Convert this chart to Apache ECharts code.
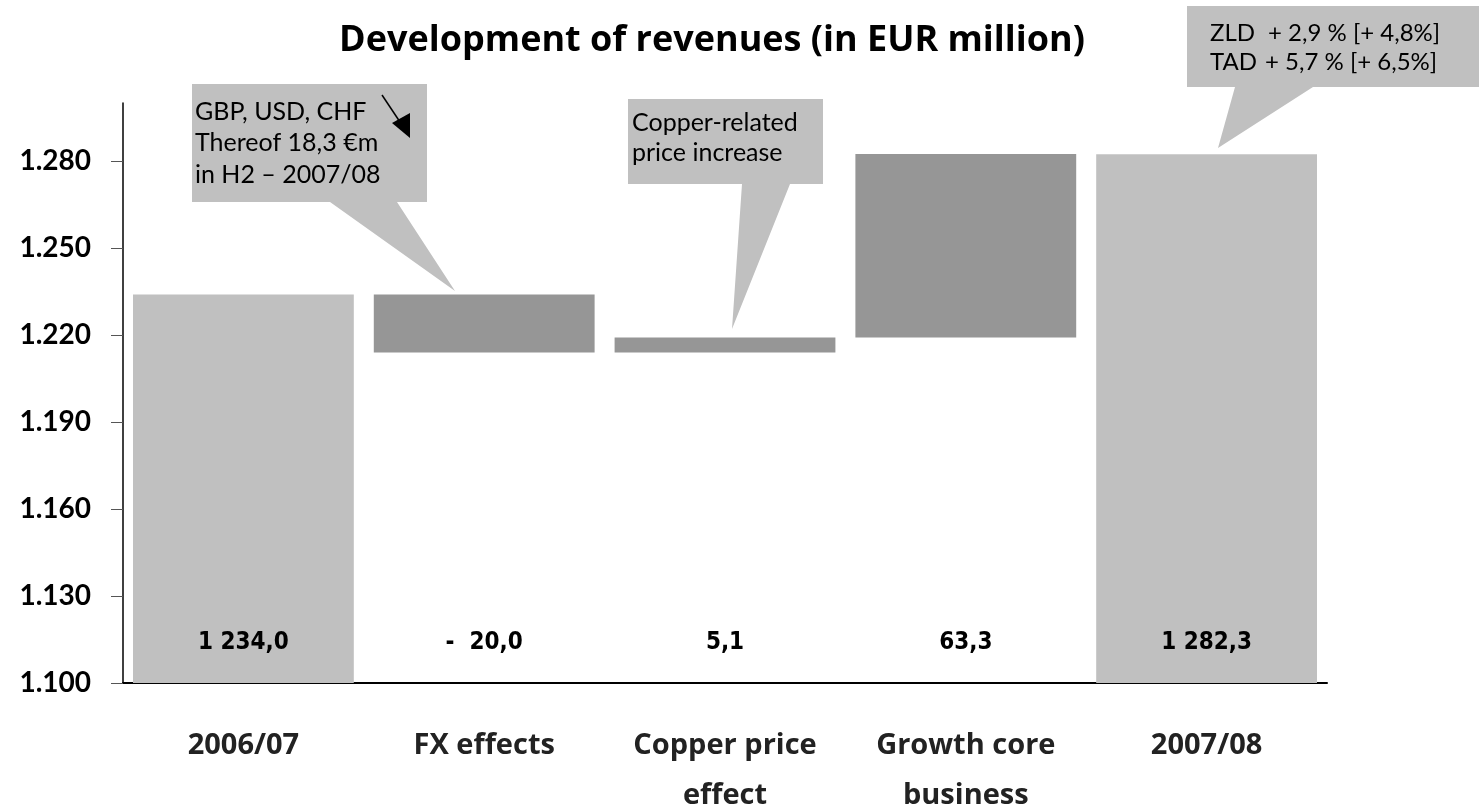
<!DOCTYPE html>
<html>
<head>
<meta charset="utf-8">
<script src="https://cdn.jsdelivr.net/npm/echarts@6/dist/echarts.min.js"></script>
<style>
html,body{margin:0;padding:0;background:#fff;}
#chart{width:1479px;height:809px;}
</style>
</head>
<body>
<div id="chart"></div>
<script>
// ---- data ----
const categories = ['2006/07', 'FX effects', 'Copper price\neffect', 'Growth core\nbusiness', '2007/08'];
const startTotal = 1234.0;
const deltas = [-20.0, 5.1, 63.3];
const endTotal = 1282.3;
const valueLabels = ['1 234,0', '-  20,0', '5,1', '63,3', '1 282,3'];
const yTicks = [1100, 1130, 1160, 1190, 1220, 1250, 1280];
const yMin = 1100, yMax = 1300, yInterval = 30;

// build waterfall ranges [index, low, high, kind]
const bars = [];
bars.push([0, yMin, startTotal, 0]);
let run = startTotal;
deltas.forEach((d, k) => {
  const next = run + d;
  bars.push([k + 1, Math.min(run, next), Math.max(run, next), 1]);
  run = next;
});
bars.push([deltas.length + 1, yMin, endTotal, 0]);

const labelLevel = 1114;
const fmtTick = v => { const s = String(v); return s.slice(0, 1) + '.' + s.slice(1); };

const chart = echarts.init(document.getElementById('chart'));
const calloutFont = '25px Lato, "Open Sans", sans-serif';
const calloutFont3 = '24px Lato, "Open Sans", sans-serif';
const calloutFill = '#c0c0c0';

chart.setOption({
  animation: false,
  title: {
    text: 'Development of revenues (in EUR million)',
    left: 707, top: 18, textAlign: 'center',
    textStyle: { fontFamily: '"Open Sans", Lato, sans-serif', fontWeight: 'bold', fontSize: 36, color: '#000' }
  },
  grid: { left: 123, right: 152, top: 103, bottom: 126, containLabel: false, outerBoundsMode: 'none' },
  xAxis: {
    type: 'category',
    data: categories,
    boundaryGap: true,
    axisLine: { lineStyle: { color: '#000', width: 2 } },
    axisTick: { show: false },
    axisLabel: {
      margin: 38, lineHeight: 50, color: '#222',
      fontFamily: '"Open Sans", Lato, sans-serif', fontWeight: 'bold', fontSize: 29
    }
  },
  yAxis: {
    type: 'value',
    min: yMin, max: yMax, interval: yInterval,
    splitLine: { show: false },
    axisLine: { show: true, lineStyle: { color: '#000', width: 1.5 } },
    axisTick: { show: true, inside: false, length: 12, lineStyle: { color: '#555', width: 1 }, customValues: yTicks },
    axisLabel: {
      customValues: yTicks,
      formatter: fmtTick, margin: 32, color: '#000',
      fontFamily: 'Lato, "Open Sans", sans-serif', fontWeight: 'bold', fontSize: 28
    }
  },
  series: [{
    type: 'custom',
    data: bars,
    encode: { x: 0, y: [1, 2] },
    renderItem: function (params, api) {
      const i = api.value(0);
      const low = api.value(1), high = api.value(2), kind = api.value(3);
      const pTop = api.coord([i, high]);
      const pBot = api.coord([i, low]);
      const w = api.size([1, 0])[0] * 0.917;
      const pl = api.coord([i, labelLevel]);
      return {
        type: 'group',
        children: [{
          type: 'rect',
          shape: { x: pTop[0] - w / 2, y: pTop[1], width: w, height: pBot[1] - pTop[1] },
          style: { fill: kind ? '#969696' : '#c0c0c0' }
        }, {
          type: 'text',
          x: pl[0], y: pl[1],
          style: {
            text: valueLabels[params.dataIndex],
            align: 'center', verticalAlign: 'middle',
            font: 'bold 24px "DejaVu Sans Condensed", "Liberation Sans Narrow", sans-serif',
            fill: '#000'
          }
        }]
      };
    }
  }],
  graphic: [
    // Callout 1 (FX)
    { type: 'polygon', shape: { points: [[192,84],[427,84],[427,202],[397,202],[455,291],[330,202],[192,202]] }, style: { fill: calloutFill } },
    { type: 'text', x: 195, y: 112, style: { text: 'GBP, USD, CHF', font: calloutFont, fill: '#000', verticalAlign: 'middle' } },
    { type: 'text', x: 195, y: 143, style: { text: 'Thereof 18,3 €m', font: calloutFont, fill: '#000', verticalAlign: 'middle' } },
    { type: 'text', x: 195, y: 175, style: { text: 'in H2 – 2007/08', font: calloutFont, fill: '#000', verticalAlign: 'middle' } },
    { type: 'line', shape: { x1: 382, y1: 95, x2: 400, y2: 122 }, style: { stroke: '#000', lineWidth: 1.5 } },
    { type: 'polygon', shape: { points: [[392,123],[410,113],[410,138]] }, style: { fill: '#000' } },
    // Callout 2 (Copper)
    { type: 'polygon', shape: { points: [[628,99],[823,99],[823,184],[790,184],[732,329],[742,184],[628,184]] }, style: { fill: calloutFill } },
    { type: 'text', x: 632, y: 123, style: { text: 'Copper-related', font: calloutFont, fill: '#000', verticalAlign: 'middle' } },
    { type: 'text', x: 632, y: 153, style: { text: 'price increase', font: calloutFont, fill: '#000', verticalAlign: 'middle' } },
    // Callout 3 (ZLD/TAD)
    { type: 'polygon', shape: { points: [[1187,6],[1479,6],[1479,87],[1313,87],[1218,148],[1235,87],[1187,87]] }, style: { fill: calloutFill } },
    { type: 'text', x: 1210, y: 33, style: { text: 'ZLD', font: calloutFont3, fill: '#000', verticalAlign: 'middle' } },
    { type: 'text', x: 1268, y: 33, style: { text: '+ 2,9 % [+ 4,8%]', font: calloutFont3, fill: '#000', verticalAlign: 'middle' } },
    { type: 'text', x: 1210, y: 62, style: { text: 'TAD', font: calloutFont3, fill: '#000', verticalAlign: 'middle' } },
    { type: 'text', x: 1265, y: 62, style: { text: '+ 5,7 % [+ 6,5%]', font: calloutFont3, fill: '#000', verticalAlign: 'middle' } }
  ]
});
</script>
</body>
</html>
